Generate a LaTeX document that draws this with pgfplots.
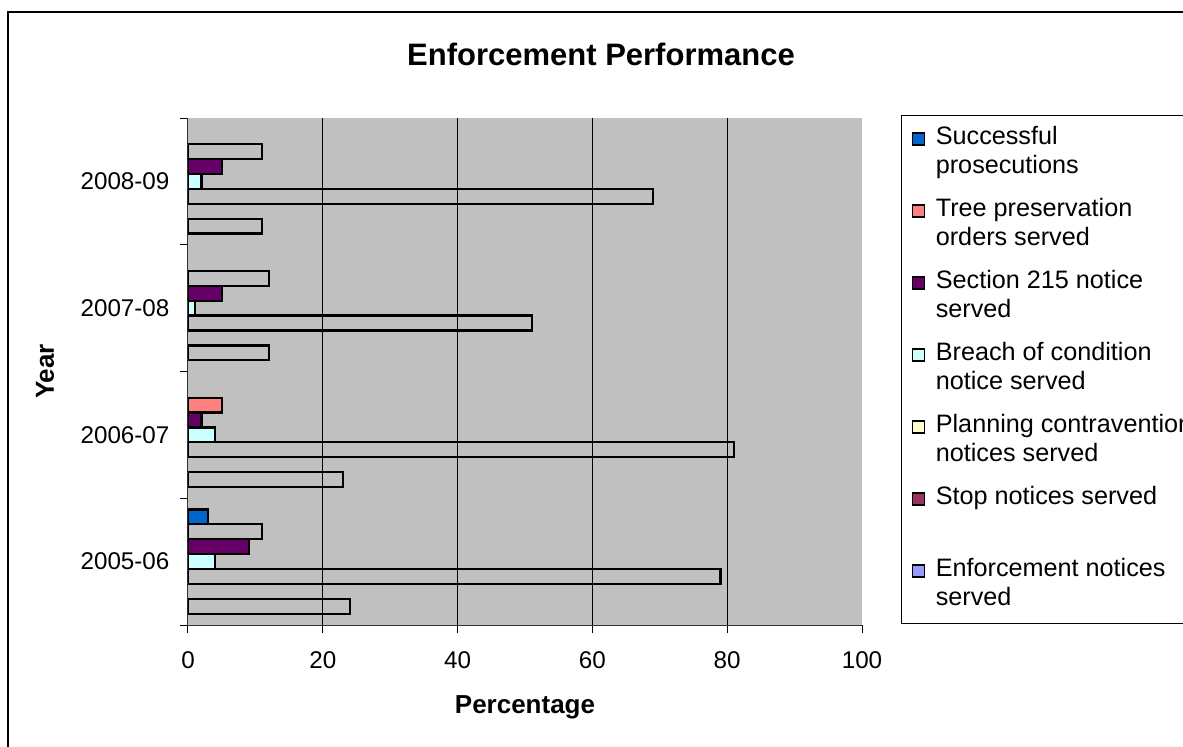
\documentclass[border=0pt]{standalone}
\usepackage{pgfplots}
\pgfplotsset{compat=1.18}
\usepackage{fontspec}
\setmainfont{Liberation Sans}
\definecolor{cBlue}{HTML}{0066CC}
\definecolor{cSalmon}{HTML}{FF8080}
\definecolor{cPurple}{HTML}{660066}
\definecolor{cCyan}{HTML}{CCFFFF}
\definecolor{cYellow}{HTML}{FFFFCC}
\definecolor{cMaroon}{HTML}{993366}
\definecolor{cLavender}{HTML}{9999FF}
\definecolor{cBg}{HTML}{C0C0C0}
\begin{document}
\begin{tikzpicture}
\useasboundingbox (-94pt,-60.5pt) rectangle (497.5pt,312.5pt);
\clip (-94pt,-60.5pt) rectangle (497.5pt,312.5pt);
\draw[line width=1pt] (-90pt,306.5pt) rectangle (520pt,-80pt);
\begin{axis}[
  at={(0pt,0pt)}, anchor=south west,
  scale only axis, width=337pt, height=253.5pt,
  xbar, bar width=0.11765,
  xmin=0, xmax=100, ymin=-0.5, ymax=3.5,
  axis background/.style={fill=cBg},
  axis x line*=bottom, axis y line*=left,
  axis line style={-, draw=black!80, line width=0.5pt},
  xtick={0,20,...,100},
  ytick={-0.5,0.5,1.5,2.5,3.5}, yticklabels={},
  extra y ticks={0,1,2,3},
  extra y tick labels={2005-06,2006-07,2007-08,2008-09},
  extra y tick style={tick style={draw=none}},
  extra x ticks={20,40,60,80}, extra x tick labels={},
  extra x tick style={grid=major, major grid style={black, line width=0.5pt}, tick style={draw=none}},
  tick align=outside, major tick length=3.75pt,
  tick style={black, line width=0.5pt},
  /pgf/number format/assume math mode=true,
  tick label style={font=\fontsize{12.1}{14}\selectfont},
  xticklabel style={yshift=-6pt},
  yticklabel style={xshift=-2pt},
  xlabel={Percentage}, ylabel={Year},
  every axis x label/.style={at={(axis description cs:0.5,-0.1617)}, anchor=center, font=\fontsize{13}{15}\selectfont\bfseries},
  every axis y label/.style={at={(axis description cs:-0.2122,0.5)}, anchor=center, rotate=90, font=\fontsize{13}{15}\selectfont\bfseries},
  title={Enforcement Performance},
  every axis title/.style={at={(axis description cs:0.6128,1.1252)}, anchor=center, font=\fontsize{15.5}{18}\selectfont\bfseries},
  legend image code/.code={\draw[#1, line width=0.6pt] (0pt,0pt) rectangle (6pt,6pt);},
  legend style={at={(axis description cs:1.0579,1.0059)}, anchor=north west,
    draw=black, line width=0.6pt, fill=white, inner xsep=5pt, inner ysep=3.5pt,
    row sep=5pt, column sep=4.5pt,
    font=\fontsize{12.6}{14.5}\selectfont,
    cells={anchor=base west}, nodes={inner sep=1pt, text height=10.15pt, text depth=18.85pt}},
]
% slot 1: Successful prosecutions
\addplot[forget plot, fill=cBlue, draw=black, line width=1.1pt, bar shift=0.35294] coordinates {(3,0)};
% slot 2: Tree preservation orders served
\addplot[forget plot, fill=none, draw=black, line width=1.1pt, bar shift=0.23529] coordinates {(11,0) (12,2) (11,3)};
\addplot[forget plot, fill=cSalmon, draw=black, line width=1.1pt, bar shift=0.23529] coordinates {(5,1)};
% slot 3: Section 215 notice served
\addplot[forget plot, fill=cPurple, draw=black, line width=1.1pt, bar shift=0.11765] coordinates {(9,0) (2,1) (5,2) (5,3)};
% slot 4: Breach of condition notice served
\addplot[forget plot, fill=cCyan, draw=black, line width=1.1pt, bar shift=0] coordinates {(4,0) (4,1) (1,2) (2,3)};
% slot 5: Planning contravention notices served
\addplot[forget plot, fill=none, draw=black, line width=1.1pt, bar shift=-0.11765] coordinates {(79,0) (81,1) (51,2) (69,3)};
% slot 6: Stop notices served (all zero)
% slot 7: Enforcement notices served
\addplot[forget plot, fill=none, draw=black, line width=1.1pt, bar shift=-0.35294] coordinates {(24,0) (23,1) (12,2) (11,3)};

\addlegendimage{fill=cBlue, draw=black}
\addlegendentry{\begin{tabular}[t]{@{}l@{}}Successful\\prosecutions\end{tabular}}
\addlegendimage{fill=cSalmon, draw=black}
\addlegendentry{\begin{tabular}[t]{@{}l@{}}Tree preservation\\orders served\end{tabular}}
\addlegendimage{fill=cPurple, draw=black}
\addlegendentry{\begin{tabular}[t]{@{}l@{}}Section 215 notice\\served\end{tabular}}
\addlegendimage{fill=cCyan, draw=black}
\addlegendentry{\begin{tabular}[t]{@{}l@{}}Breach of condition\\notice served\end{tabular}}
\addlegendimage{fill=cYellow, draw=black}
\addlegendentry{\begin{tabular}[t]{@{}l@{}}Planning contravention\\notices served\end{tabular}}
\addlegendimage{fill=cMaroon, draw=black}
\addlegendentry{\begin{tabular}[t]{@{}l@{}}Stop notices served\\\mbox{}\end{tabular}}
\addlegendimage{fill=cLavender, draw=black}
\addlegendentry{\begin{tabular}[t]{@{}l@{}}Enforcement notices\\served\end{tabular}}
\end{axis}
\end{tikzpicture}
\end{document}
